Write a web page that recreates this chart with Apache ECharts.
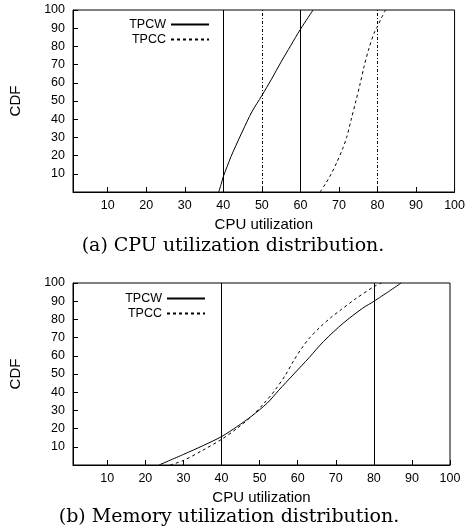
<!DOCTYPE html>
<html>
<head>
<meta charset="utf-8">
<script src="https://cdn.jsdelivr.net/npm/echarts@6/dist/echarts.min.js"></script>
<style>
html,body{margin:0;padding:0;background:#fff;}
#chart{width:468px;height:531px;}
</style>
</head>
<body>
<div id="chart"></div>
<script>
// ---- Data ----
var seriesNames = ['TPCW', 'TPCC'];
var xTickValues = [10, 20, 30, 40, 50, 60, 70, 80, 90, 100];
var yTickValues = [10, 20, 30, 40, 50, 60, 70, 80, 90, 100];

// (a) CPU utilization distribution: [utilization, CDF]
var cpuTPCW = [[38.8, 0], [39.4, 4], [40, 8.5], [41, 14], [42, 19.5], [43.3, 25.7], [45, 33.5], [47.4, 44], [50, 53], [52.5, 62], [55, 71.5], [57.5, 80.5], [60, 89.4], [63.3, 100]];
var cpuTPCC = [[65.1, 0], [66.5, 4.5], [68, 10], [69.5, 16.5], [71, 24], [72, 30], [73.2, 40], [74.4, 50], [75.5, 59.5], [76.5, 68.8], [77.8, 79], [79.1, 87.2], [80, 91], [81, 95.5], [82.1, 100]];
var cpuSolidLines = [40, 60];
var cpuDashDotLines = [50, 80];

// (b) Memory utilization distribution
var memTPCW = [[23.6, 0], [30.1, 5.9], [35, 10.5], [40, 15.6], [44, 21], [48, 27], [52, 34], [55, 41], [59, 50], [63, 59], [66.8, 67.9], [72, 78], [77.1, 86.2], [80, 89.9], [87.2, 100]];
var memTPCC = [[26.5, 0], [30, 2.5], [35, 8], [40, 14.1], [44, 20], [48, 27], [51, 33.5], [54, 41], [56.8, 49.5], [59, 57.5], [61, 64], [63, 69.5], [66, 76], [69, 81.5], [71.5, 85.5], [75, 91], [80, 98], [82, 100]];
var memSolidLines = [40, 80];

var xAxisName = 'CPU utilization';
var yAxisName = 'CDF';
var captions = ['(a) CPU utilization distribution.', '(b) Memory utilization distribution.'];

// ---- Chart ----
var sans = 'Liberation Sans, Arial, Helvetica, sans-serif';
var serif = 'DejaVu Serif, Liberation Serif, serif';

function makeX(idx) {
  return {
    gridIndex: idx, type: 'value', min: 1, max: 100,
    name: xAxisName, nameLocation: 'middle', nameGap: 25,
    nameTextStyle: {fontFamily: sans, fontSize: 15, color: '#000'},
    axisLine: {show: true, lineStyle: {color: '#000', width: 1}},
    axisTick: {show: true, inside: true, length: 5, customValues: xTickValues, lineStyle: {color: '#000'}},
    axisLabel: {customValues: xTickValues, fontFamily: sans, fontSize: 12.5, color: '#000', margin: 7},
    splitLine: {show: false}
  };
}
function makeY(idx) {
  return {
    gridIndex: idx, type: 'value', min: 0, max: 100,
    name: yAxisName, nameLocation: 'middle', nameGap: 50, nameRotate: 90,
    nameTextStyle: {fontFamily: sans, fontSize: 15, color: '#000'},
    axisLine: {show: true, lineStyle: {color: '#000', width: 1}},
    axisTick: {show: true, inside: true, length: 5, customValues: yTickValues, lineStyle: {color: '#000'}},
    axisLabel: {customValues: yTickValues, fontFamily: sans, fontSize: 12.5, color: '#000', margin: 8},
    splitLine: {show: false}
  };
}
function curve(name, data, idx, dashed) {
  return {
    name: name, type: 'line', xAxisIndex: idx, yAxisIndex: idx,
    data: data, symbol: 'none', smooth: 0.3,
    lineStyle: {color: '#000', width: 1, type: dashed ? [3, 3] : 'solid'},
    itemStyle: {color: '#000'}, silent: true
  };
}
function vlines(values, idx, type) {
  return {
    type: 'line', xAxisIndex: idx, yAxisIndex: idx, data: [], silent: true,
    markLine: {
      symbol: 'none', silent: true, label: {show: false},
      lineStyle: {color: '#000', width: 1, type: type},
      data: values.map(function (v) { return {xAxis: v}; })
    }
  };
}
function legendAt(right, top) {
  return {data: seriesNames, orient: 'vertical', align: 'right', right: right, top: top,
    itemWidth: 38, itemHeight: 10, itemGap: 2, itemStyle: {opacity: 0},
    textStyle: {fontFamily: sans, fontSize: 12.5, color: '#000', lineHeight: 12}, selectedMode: false};
}

var chart = echarts.init(document.getElementById('chart'), null, {renderer: 'canvas'});
chart.setOption({
  animation: false,
  backgroundColor: '#fff',
  title: [
    {text: captions[0], left: 228, top: 232, textAlign: 'center', textStyle: {fontFamily: serif, fontSize: 19, fontWeight: 'normal', color: '#000'}},
    {text: captions[1], left: 224, top: 503, textAlign: 'center', textStyle: {fontFamily: serif, fontSize: 19, fontWeight: 'normal', color: '#000'}}
  ],
  grid: [
    {left: 72, top: 10, width: 383, height: 182, show: true, borderColor: '#000', borderWidth: 1, backgroundColor: 'transparent'},
    {left: 68, top: 283, width: 382, height: 182, show: true, borderColor: '#000', borderWidth: 1, backgroundColor: 'transparent'}
  ],
  legend: [legendAt(253, 13), legendAt(257, 287)],
  xAxis: [makeX(0), makeX(1)],
  yAxis: [makeY(0), makeY(1)],
  series: [
    curve(seriesNames[0], cpuTPCW, 0, false),
    curve(seriesNames[1], cpuTPCC, 0, true),
    vlines(cpuSolidLines, 0, 'solid'),
    vlines(cpuDashDotLines, 0, [3, 2, 1, 2]),
    curve(seriesNames[0], memTPCW, 1, false),
    curve(seriesNames[1], memTPCC, 1, true),
    vlines(memSolidLines, 1, 'solid')
  ]
});
</script>
</body>
</html>
